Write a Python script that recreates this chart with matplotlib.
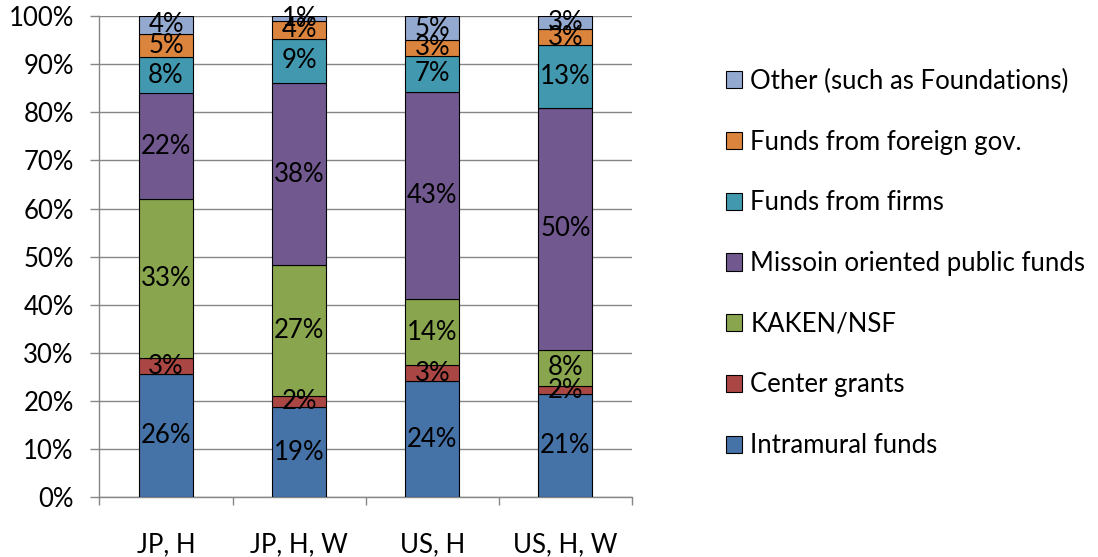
import numpy as np
import matplotlib.pyplot as plt

plt.rcParams["font.family"] = ["Lato", "DejaVu Sans"]

groups = ["JP, H", "JP, H, W", "US, H", "US, H, W"]

# share of funding by source, percent (bottom to top of each bar)
intramural = [25.6, 18.7, 24.1, 21.4]
center = [3.3, 2.3, 3.4, 1.7]
kaken = [33.1, 27.3, 13.6, 7.6]
mission = [21.9, 37.7, 43.2, 50.1]
firms = [7.6, 9.3, 7.4, 13.1]
foreign = [4.8, 3.6, 3.3, 3.3]
other = [3.7, 1.1, 5.0, 2.8]

series = [
    ("Intramural funds", intramural, "#4572A7"),
    ("Center grants", center, "#AA4643"),
    ("KAKEN/NSF", kaken, "#89A54E"),
    ("Missoin oriented public funds", mission, "#71588F"),
    ("Funds from firms", firms, "#4198AF"),
    ("Funds from foreign gov.", foreign, "#DB843D"),
    ("Other (such as Foundations)", other, "#93A9CF"),
]

fs = 18.5
fig = plt.figure(figsize=(10.98, 5.57), dpi=100)
ax = fig.add_axes([0.0906, 0.1072, 0.485, 0.8641])

x = np.arange(len(groups))
bottom = np.zeros(len(groups))
handles = []
for name, vals, col in series:
    vals = np.array(vals)
    b = ax.bar(x, vals, 0.405, bottom=bottom, color=col, edgecolor="black",
               linewidth=0.8, label=name, zorder=3)
    handles.append(b)
    for xi, v, b0 in zip(x, vals, bottom):
        ax.text(xi, b0 + v / 2, f"{v:.0f}%", ha="center", va="center",
                fontsize=fs, color="black", zorder=4)
    bottom += vals

ax.set_xlim(-0.5, len(groups) - 0.5)
ax.set_ylim(0, 100)
ax.set_yticks(np.arange(0, 101, 10))
ax.set_yticklabels([f"{v}%" for v in range(0, 101, 10)])
ax.set_xticks(x)
ax.set_xticklabels(groups)
ax.set_xticks(np.arange(-0.5, len(groups)), minor=True)

ax.grid(axis="y", color="#868686", linewidth=1.0, zorder=0)
for s in ["top", "right"]:
    ax.spines[s].set_visible(False)
for s in ["left", "bottom"]:
    ax.spines[s].set_color("#868686")
    ax.spines[s].set_linewidth(1.0)

ax.tick_params(axis="y", length=6.5, color="#868686", width=1.0, pad=12,
               labelsize=fs)
ax.tick_params(axis="x", which="major", length=0, pad=25, labelsize=fs)
ax.tick_params(axis="x", which="minor", length=6, color="#868686", width=1.0)

leg = fig.legend(handles[::-1], [s[0] for s in series][::-1],
                 loc="center left", bbox_to_anchor=(0.661, 0.527),
                 frameon=False, fontsize=fs, borderpad=0, borderaxespad=0,
                 handlelength=0.65, handleheight=0.65, handletextpad=0.3,
                 labelspacing=1.39)
for h in leg.legend_handles:
    h.set_edgecolor("black")
    h.set_linewidth(0.8)

fig.savefig("out.png", dpi=100)
